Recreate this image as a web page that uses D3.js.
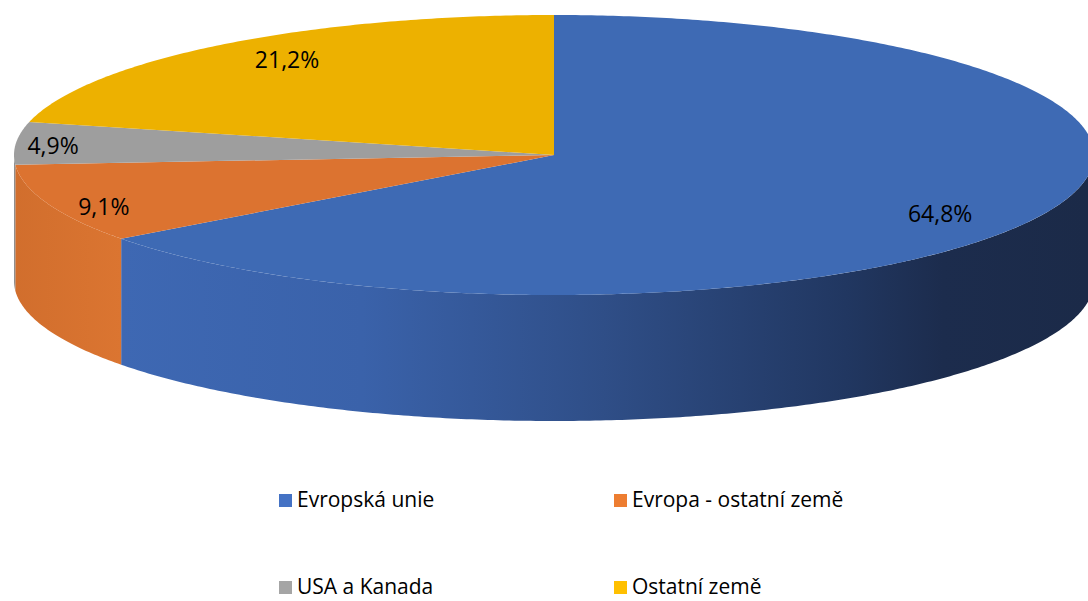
<!DOCTYPE html>
<html>
<head>
<meta charset="utf-8">
<script src="https://cdn.jsdelivr.net/npm/d3@7"></script>
<style>
  html, body { margin: 0; padding: 0; background: #fff; }
  svg { display: block; }
  text { font-family: "Open Sans", "Noto Sans", sans-serif; }
</style>
</head>
<body>
<svg id="chart" width="1088" height="601"></svg>
<script>
// Export share by destination region (%)
const categories = ["Evropská unie", "Evropa - ostatní země", "USA a Kanada", "Ostatní země"];
const shares = [64.8, 9.1, 4.9, 21.2];
const shareLabels = ["64,8%", "9,1%", "4,9%", "21,2%"];

const legendColors = ["#4472c4", "#ed7d31", "#a5a5a5", "#ffc000"];
const topColors = ["#3e6ab4", "#dc7330", "#9e9e9e", "#edb100"];

const W = 1088, H = 601;
const cx = 554, cy = 155, rx = 540, ry = 140, depth = 126;

const svg = d3.select("#chart");
const defs = svg.append("defs");

// Side-wall shading: light falls from the left
const gBlue = defs.append("linearGradient").attr("id", "side0")
  .attr("gradientUnits", "userSpaceOnUse")
  .attr("x1", 120).attr("x2", 1088).attr("y1", 0).attr("y2", 0);
[[0, "#3e68b3"], [0.25, "#3a62aa"], [0.5, "#2f4e87"], [0.75, "#213761"], [0.85, "#1c2c4d"], [1, "#1b2a48"]]
  .forEach(([o, c]) => gBlue.append("stop").attr("offset", o).attr("stop-color", c));
const gOrange = defs.append("linearGradient").attr("id", "side1")
  .attr("gradientUnits", "userSpaceOnUse")
  .attr("x1", 12).attr("x2", 122).attr("y1", 0).attr("y2", 0);
[[0, "#d16e2d"], [1, "#db7531"]]
  .forEach(([o, c]) => gOrange.append("stop").attr("offset", o).attr("stop-color", c));
const sideFill = ["url(#side0)", "url(#side1)", "#8f8f8f", "#d49e00"];

const pie = d3.pie().sort(null).value(d => d).startAngle(0).endAngle(2 * Math.PI);
const arcs = pie(shares);

const px = a => cx + rx * Math.sin(a);
const py = a => cy - ry * Math.cos(a);
const sample = (a0, a1) => {
  const n = Math.max(2, Math.ceil(Math.abs(a1 - a0) / 0.01));
  return d3.range(n + 1).map(i => a0 + (a1 - a0) * i / n);
};
const line = d3.line();

// Outer walls (front half only: angles between PI/2 and 3PI/2)
const sides = svg.append("g");
arcs.forEach((d, i) => {
  const a0 = Math.max(d.startAngle, Math.PI / 2);
  const a1 = Math.min(d.endAngle, 3 * Math.PI / 2);
  if (a1 <= a0) return;
  const top = sample(a0, a1).map(a => [px(a), py(a)]);
  const bottom = sample(a1, a0).map(a => [px(a), py(a) + depth]);
  sides.append("path")
    .attr("d", line(top.concat(bottom)) + "Z")
    .attr("fill", sideFill[i]);
});

// Top faces
const tops = svg.append("g");
arcs.forEach((d, i) => {
  const pts = [[cx, cy]].concat(sample(d.startAngle, d.endAngle).map(a => [px(a), py(a)]));
  tops.append("path")
    .attr("d", line(pts) + "Z")
    .attr("fill", topColors[i]);
});

// Data labels: thin slices push their label further out
const labels = svg.append("g");
arcs.forEach((d, i) => {
  const mid = (d.startAngle + d.endAngle) / 2;
  const f = Math.max(0.8, 0.98 - (d.endAngle - d.startAngle) / (2 * Math.PI));
  labels.append("text")
    .attr("x", cx + f * rx * Math.sin(mid))
    .attr("y", cy - 1.12 * f * ry * Math.cos(mid) + 5)
    .attr("text-anchor", "middle")
    .attr("dominant-baseline", "middle")
    .attr("font-size", 23)
    .attr("fill", "#000")
    .text(shareLabels[i]);
});

// Legend: two columns, two rows
const colX = d3.scalePoint().domain([0, 1]).range([279, 614]);
const rowY = d3.scalePoint().domain([0, 1]).range([501, 588]);
const legend = svg.append("g");
categories.forEach((c, i) => {
  const x = colX(i % 2), y = rowY(Math.floor(i / 2));
  const g = legend.append("g").attr("transform", `translate(${x},${y})`);
  g.append("rect").attr("x", 0).attr("y", -7).attr("width", 13).attr("height", 13)
    .attr("fill", legendColors[i]);
  g.append("text").attr("x", 18).attr("y", 0)
    .attr("dominant-baseline", "middle")
    .attr("font-size", 21)
    .attr("fill", "#000")
    .text(c);
});
</script>
</body>
</html>
